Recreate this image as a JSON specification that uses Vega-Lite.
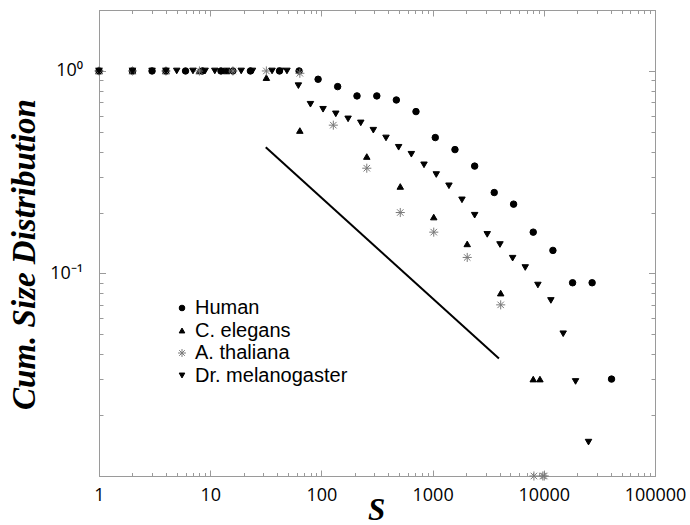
{
  "$schema": "https://vega.github.io/schema/vega-lite/v6.json",
  "width": 556,
  "height": 466,
  "autosize": {"type": "none"},
  "padding": {"left": 99, "top": 10, "right": 35, "bottom": 49},
  "background": "white",
  "config": {
    "view": {"stroke": "#9a9a9a", "strokeWidth": 1},
    "axis": {
      "grid": false,
      "domainColor": "#9a9a9a",
      "tickColor": "#9a9a9a",
      "tickWidth": 1,
      "labelFont": "Open Sans",
      "labelFontSize": 18,
      "labelColor": "#000000",
      "labelOverlap": false,
      "labelBound": false,
      "labelFlush": false
    },
    "legend": {
      "labelFont": "Liberation Sans",
      "labelFontSize": 20,
      "labelColor": "#000000",
      "labelOffset": 3,
      "rowPadding": 2.5,
      "symbolSize": 32,
      "symbolStrokeWidth": 1,
      "padding": 0
    }
  },
  "datasets": {
    "slope": [
      {"s": 31.6, "p": 0.42},
      {"s": 3950, "p": 0.038}
    ],
    "sizes": [
      {"series": "Human", "s": 1, "p": 1},
      {"series": "Human", "s": 2, "p": 1},
      {"series": "Human", "s": 3, "p": 1},
      {"series": "Human", "s": 4, "p": 1},
      {"series": "Human", "s": 6, "p": 1},
      {"series": "Human", "s": 8.5, "p": 1},
      {"series": "Human", "s": 12.5, "p": 1},
      {"series": "Human", "s": 16, "p": 1},
      {"series": "Human", "s": 23, "p": 1},
      {"series": "Human", "s": 42, "p": 1},
      {"series": "Human", "s": 63, "p": 1},
      {"series": "Human", "s": 93.4, "p": 0.91},
      {"series": "Human", "s": 140, "p": 0.837},
      {"series": "Human", "s": 209, "p": 0.753},
      {"series": "Human", "s": 315, "p": 0.753},
      {"series": "Human", "s": 472, "p": 0.719},
      {"series": "Human", "s": 709, "p": 0.63},
      {"series": "Human", "s": 1057, "p": 0.469},
      {"series": "Human", "s": 1589, "p": 0.409},
      {"series": "Human", "s": 2389, "p": 0.339},
      {"series": "Human", "s": 3583, "p": 0.251},
      {"series": "Human", "s": 5350, "p": 0.22},
      {"series": "Human", "s": 8035, "p": 0.16},
      {"series": "Human", "s": 12080, "p": 0.13},
      {"series": "Human", "s": 18150, "p": 0.09},
      {"series": "Human", "s": 27200, "p": 0.09},
      {"series": "Human", "s": 40650, "p": 0.0301},

      {"series": "C. elegans", "s": 1, "p": 1},
      {"series": "C. elegans", "s": 2, "p": 1},
      {"series": "C. elegans", "s": 4, "p": 1},
      {"series": "C. elegans", "s": 8, "p": 1},
      {"series": "C. elegans", "s": 14, "p": 1},
      {"series": "C. elegans", "s": 32, "p": 0.927},
      {"series": "C. elegans", "s": 64, "p": 0.508},
      {"series": "C. elegans", "s": 256, "p": 0.378},
      {"series": "C. elegans", "s": 512, "p": 0.269},
      {"series": "C. elegans", "s": 1024, "p": 0.19},
      {"series": "C. elegans", "s": 2048, "p": 0.14},
      {"series": "C. elegans", "s": 4096, "p": 0.08},
      {"series": "C. elegans", "s": 8035, "p": 0.0301},
      {"series": "C. elegans", "s": 9230, "p": 0.0301},

      {"series": "A. thaliana", "s": 1, "p": 1},
      {"series": "A. thaliana", "s": 2, "p": 1},
      {"series": "A. thaliana", "s": 4, "p": 1},
      {"series": "A. thaliana", "s": 8, "p": 1},
      {"series": "A. thaliana", "s": 16, "p": 1},
      {"series": "A. thaliana", "s": 32, "p": 1},
      {"series": "A. thaliana", "s": 64, "p": 0.974},
      {"series": "A. thaliana", "s": 128, "p": 0.54},
      {"series": "A. thaliana", "s": 256, "p": 0.331},
      {"series": "A. thaliana", "s": 512, "p": 0.2},
      {"series": "A. thaliana", "s": 1024, "p": 0.16},
      {"series": "A. thaliana", "s": 2048, "p": 0.12},
      {"series": "A. thaliana", "s": 4096, "p": 0.07},
      {"series": "A. thaliana", "s": 8150, "p": 0.01},
      {"series": "A. thaliana", "s": 9800, "p": 0.01},
      {"series": "A. thaliana", "s": 10100, "p": 0.01},

      {"series": "Dr. melanogaster", "s": 1, "p": 1},
      {"series": "Dr. melanogaster", "s": 2, "p": 1},
      {"series": "Dr. melanogaster", "s": 3, "p": 1},
      {"series": "Dr. melanogaster", "s": 4, "p": 1},
      {"series": "Dr. melanogaster", "s": 5, "p": 1},
      {"series": "Dr. melanogaster", "s": 7, "p": 1},
      {"series": "Dr. melanogaster", "s": 9, "p": 1},
      {"series": "Dr. melanogaster", "s": 11, "p": 1},
      {"series": "Dr. melanogaster", "s": 14, "p": 1},
      {"series": "Dr. melanogaster", "s": 19, "p": 1},
      {"series": "Dr. melanogaster", "s": 24, "p": 1},
      {"series": "Dr. melanogaster", "s": 36, "p": 1},
      {"series": "Dr. melanogaster", "s": 43, "p": 1},
      {"series": "Dr. melanogaster", "s": 49, "p": 1},
      {"series": "Dr. melanogaster", "s": 62.1, "p": 0.846},
      {"series": "Dr. melanogaster", "s": 79.7, "p": 0.685},
      {"series": "Dr. melanogaster", "s": 103.5, "p": 0.647},
      {"series": "Dr. melanogaster", "s": 134.7, "p": 0.614},
      {"series": "Dr. melanogaster", "s": 173.8, "p": 0.58},
      {"series": "Dr. melanogaster", "s": 226, "p": 0.554},
      {"series": "Dr. melanogaster", "s": 293, "p": 0.51},
      {"series": "Dr. melanogaster", "s": 381, "p": 0.467},
      {"series": "Dr. melanogaster", "s": 495, "p": 0.42},
      {"series": "Dr. melanogaster", "s": 644, "p": 0.388},
      {"series": "Dr. melanogaster", "s": 837, "p": 0.344},
      {"series": "Dr. melanogaster", "s": 1079, "p": 0.308},
      {"series": "Dr. melanogaster", "s": 1403, "p": 0.271},
      {"series": "Dr. melanogaster", "s": 1837, "p": 0.231},
      {"series": "Dr. melanogaster", "s": 2389, "p": 0.194},
      {"series": "Dr. melanogaster", "s": 3100, "p": 0.156},
      {"series": "Dr. melanogaster", "s": 4035, "p": 0.139},
      {"series": "Dr. melanogaster", "s": 5245, "p": 0.119},
      {"series": "Dr. melanogaster", "s": 6810, "p": 0.107},
      {"series": "Dr. melanogaster", "s": 8850, "p": 0.0877},
      {"series": "Dr. melanogaster", "s": 11580, "p": 0.0736},
      {"series": "Dr. melanogaster", "s": 14940, "p": 0.0504},
      {"series": "Dr. melanogaster", "s": 19300, "p": 0.0293},
      {"series": "Dr. melanogaster", "s": 25240, "p": 0.0147}
    ]
  },
  "layer": [
    {
      "data": {"name": "slope"},
      "mark": {"type": "line", "color": "#000000", "strokeWidth": 2},
      "encoding": {
        "x": {
          "field": "s",
          "type": "quantitative",
          "scale": {"type": "log", "domain": [1, 100000], "nice": false},
          "axis": {
            "orient": "bottom",
            "values": [1, 2, 3, 4, 5, 6, 7, 8, 9, 10, 20, 30, 40, 50, 60, 70, 80, 90, 100, 200, 300, 400, 500, 600, 700, 800, 900, 1000, 2000, 3000, 4000, 5000, 6000, 7000, 8000, 9000, 10000, 20000, 30000, 40000, 50000, 60000, 70000, 80000, 90000, 100000],
            "labelExpr": "indexof([1, 10, 100, 1000, 10000, 100000], datum.value) >= 0 ? format(datum.value, 'd') : ''",
            "tickSize": {"condition": {"test": "indexof([1, 10, 100, 1000, 10000, 100000], datum.value) >= 0", "value": -6}, "value": -3.5},
            "labelPadding": 30,
            "labelBaseline": "alphabetic",
            "title": "S",
            "titleFont": "Liberation Serif",
            "titleFontSize": 31,
            "titleFontStyle": "italic",
            "titleFontWeight": "bold",
            "titleColor": "#000000",
            "titleX": 277,
            "titleY": 43,
            "titleBaseline": "alphabetic"
          }
        },
        "y": {
          "field": "p",
          "type": "quantitative",
          "scale": {"type": "log", "domain": [0.01, 2], "nice": false},
          "axis": {
            "orient": "left",
            "values": [0.01, 0.02, 0.03, 0.04, 0.05, 0.06, 0.07, 0.08, 0.09, 0.1, 0.2, 0.3, 0.4, 0.5, 0.6, 0.7, 0.8, 0.9, 1, 2],
            "labelExpr": "datum.value == 1 ? '10⁰' : datum.value == 0.1 ? '10⁻¹' : ''",
            "tickSize": {"condition": {"test": "datum.value == 1 || datum.value == 0.1 || datum.value == 0.01", "value": -6.5}, "value": -4},
            "labelPadding": 23,
            "labelBaseline": "middle",
            "title": "Cum. Size Distribution",
            "titleFont": "Liberation Serif",
            "titleFontSize": 33,
            "titleFontStyle": "italic",
            "titleFontWeight": "bold",
            "titleColor": "#000000",
            "titleAngle": 270,
            "titleAlign": "center",
            "titleBaseline": "middle",
            "titleX": -75,
            "titleY": 244
          }
        }
      }
    },
    {
      "data": {"name": "sizes"},
      "mark": {"type": "point", "filled": true, "opacity": 1, "size": 42, "strokeWidth": 1},
      "encoding": {
        "x": {
          "field": "s",
          "type": "quantitative",
          "scale": {"type": "log", "domain": [1, 100000], "nice": false},
          "axis": {
            "orient": "top",
            "labels": false,
            "title": null,
            "values": [1, 2, 3, 4, 5, 6, 7, 8, 9, 10, 20, 30, 40, 50, 60, 70, 80, 90, 100, 200, 300, 400, 500, 600, 700, 800, 900, 1000, 2000, 3000, 4000, 5000, 6000, 7000, 8000, 9000, 10000, 20000, 30000, 40000, 50000, 60000, 70000, 80000, 90000, 100000],
            "tickSize": {"condition": {"test": "indexof([1, 10, 100, 1000, 10000, 100000], datum.value) >= 0", "value": -6}, "value": -3.5}
          }
        },
        "y": {
          "field": "p",
          "type": "quantitative",
          "scale": {"type": "log", "domain": [0.01, 2], "nice": false},
          "axis": {
            "orient": "right",
            "labels": false,
            "title": null,
            "values": [0.01, 0.02, 0.03, 0.04, 0.05, 0.06, 0.07, 0.08, 0.09, 0.1, 0.2, 0.3, 0.4, 0.5, 0.6, 0.7, 0.8, 0.9, 1, 2],
            "tickSize": {"condition": {"test": "datum.value == 1 || datum.value == 0.1 || datum.value == 0.01", "value": -6.5}, "value": -4}
          }
        },
        "color": {
          "field": "series",
          "type": "nominal",
          "scale": {"domain": ["Human", "C. elegans", "A. thaliana", "Dr. melanogaster"], "range": ["#000000", "#000000", "#7a7a7a", "#000000"]},
          "legend": {"title": null, "orient": "none", "legendX": 73, "legendY": 288}
        },
        "stroke": {
          "field": "series",
          "type": "nominal",
          "scale": {"domain": ["Human", "C. elegans", "A. thaliana", "Dr. melanogaster"], "range": ["#000000", "#000000", "#7a7a7a", "#000000"]},
          "legend": {"title": null, "orient": "none", "legendX": 73, "legendY": 288}
        },
        "shape": {
          "field": "series",
          "type": "nominal",
          "scale": {"domain": ["Human", "C. elegans", "A. thaliana", "Dr. melanogaster"], "range": ["circle", "triangle-up", "M0,-1.4L0,1.4M-1.4,0L1.4,0M-1,-1L1,1M-1,1L1,-1", "triangle-down"]},
          "legend": {"title": null, "orient": "none", "legendX": 73, "legendY": 288}
        }
      }
    }
  ],
  "resolve": {"axis": {"x": "independent", "y": "independent"}}
}
